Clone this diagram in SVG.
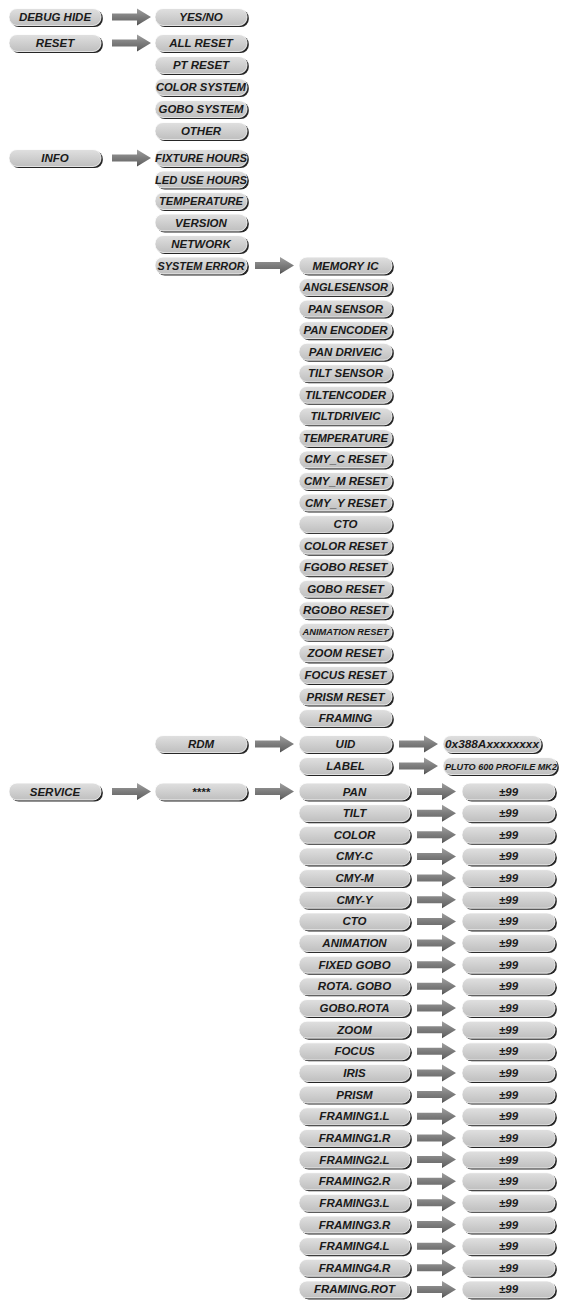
<svg xmlns="http://www.w3.org/2000/svg" xmlns:xlink="http://www.w3.org/1999/xlink" width="561" height="1302" viewBox="0 0 561 1302">
<style>
.sh{fill:#262626}
.bd{fill:url(#ng);stroke:#ffffff;stroke-width:0.8}
text{font-family:"Liberation Sans",Arial,sans-serif;font-weight:bold;font-style:italic;font-size:11.5px;fill:#1a1a1a;text-anchor:middle}
.sm{font-size:9px}
.ar{fill:url(#ag)}
</style>
<defs>
<linearGradient id="ng" x1="0" y1="0" x2="0" y2="1">
<stop offset="0" stop-color="#e0e0e0"/>
<stop offset="1" stop-color="#bfbfbf"/>
</linearGradient>
<linearGradient id="ag" x1="0" y1="0" x2="0" y2="1">
<stop offset="0" stop-color="#a0a0a0"/>
<stop offset="0.5" stop-color="#7c7c7c"/>
<stop offset="0.8" stop-color="#6a6a6a"/>
<stop offset="1" stop-color="#444444"/>
</linearGradient>
<path id="arr" class="ar" d="M0,-3.5 H25 V-8.5 L39,0 L25,8.5 V3.5 H0 Z"/>
</defs>
<rect width="561" height="1302" fill="#ffffff"/>

<g id="connectors">
<use href="#arr" x="112" y="17"/>
<use href="#arr" x="112" y="43"/>
<use href="#arr" x="112" y="158"/>
<use href="#arr" x="255" y="265.5"/>
<use href="#arr" x="255" y="744"/>
<use href="#arr" x="399" y="744"/>
<use href="#arr" x="399" y="766"/>
<use href="#arr" x="112" y="791.5"/>
<use href="#arr" x="255" y="791.5"/>
<use href="#arr" x="417" y="791.5"/>
<use href="#arr" x="417" y="813.15"/>
<use href="#arr" x="417" y="834.8"/>
<use href="#arr" x="417" y="856.45"/>
<use href="#arr" x="417" y="878.1"/>
<use href="#arr" x="417" y="899.75"/>
<use href="#arr" x="417" y="921.4"/>
<use href="#arr" x="417" y="943.05"/>
<use href="#arr" x="417" y="964.7"/>
<use href="#arr" x="417" y="986.35"/>
<use href="#arr" x="417" y="1008"/>
<use href="#arr" x="417" y="1029.65"/>
<use href="#arr" x="417" y="1051.3"/>
<use href="#arr" x="417" y="1072.95"/>
<use href="#arr" x="417" y="1094.6"/>
<use href="#arr" x="417" y="1116.25"/>
<use href="#arr" x="417" y="1137.9"/>
<use href="#arr" x="417" y="1159.55"/>
<use href="#arr" x="417" y="1181.2"/>
<use href="#arr" x="417" y="1202.85"/>
<use href="#arr" x="417" y="1224.5"/>
<use href="#arr" x="417" y="1246.15"/>
<use href="#arr" x="417" y="1267.8"/>
<use href="#arr" x="417" y="1289.45"/>
</g>

<!-- Column 1 -->
<g id="n-debug-hide"><rect class="sh" x="10.8" y="10" width="92" height="17" rx="8"/><rect class="bd" x="9" y="8.5" width="92" height="17" rx="8"/><text x="55" y="21">DEBUG HIDE</text></g>
<g id="n-reset"><rect class="sh" x="10.8" y="36" width="92" height="17" rx="8"/><rect class="bd" x="9" y="34.5" width="92" height="17" rx="8"/><text x="55" y="47">RESET</text></g>
<g id="n-info"><rect class="sh" x="10.8" y="151" width="92" height="17" rx="8"/><rect class="bd" x="9" y="149.5" width="92" height="17" rx="8"/><text x="55" y="162">INFO</text></g>
<g id="n-service"><rect class="sh" x="10.8" y="784.5" width="92" height="17" rx="8"/><rect class="bd" x="9" y="783" width="92" height="17" rx="8"/><text x="55" y="795.5">SERVICE</text></g>

<!-- Column 2 -->
<g id="n-yesno"><rect class="sh" x="156.8" y="10" width="92" height="17" rx="8"/><rect class="bd" x="155" y="8.5" width="92" height="17" rx="8"/><text x="201" y="21">YES/NO</text></g>
<g id="n-all-reset"><rect class="sh" x="156.8" y="36" width="92" height="17" rx="8"/><rect class="bd" x="155" y="34.5" width="92" height="17" rx="8"/><text x="201" y="47">ALL RESET</text></g>
<g id="n-pt-reset"><rect class="sh" x="156.8" y="58" width="92" height="17" rx="8"/><rect class="bd" x="155" y="56.5" width="92" height="17" rx="8"/><text x="201" y="69">PT RESET</text></g>
<g id="n-color-system"><rect class="sh" x="156.8" y="80" width="92" height="17" rx="8"/><rect class="bd" x="155" y="78.5" width="92" height="17" rx="8"/><text x="201" y="91" textLength="90" lengthAdjust="spacingAndGlyphs">COLOR SYSTEM</text></g>
<g id="n-gobo-system"><rect class="sh" x="156.8" y="102" width="92" height="17" rx="8"/><rect class="bd" x="155" y="100.5" width="92" height="17" rx="8"/><text x="201" y="113" textLength="85" lengthAdjust="spacingAndGlyphs">GOBO SYSTEM</text></g>
<g id="n-other"><rect class="sh" x="156.8" y="124" width="92" height="17" rx="8"/><rect class="bd" x="155" y="122.5" width="92" height="17" rx="8"/><text x="201" y="135">OTHER</text></g>
<g id="n-fixture-hours"><rect class="sh" x="156.8" y="151" width="92" height="17" rx="8"/><rect class="bd" x="155" y="149.5" width="92" height="17" rx="8"/><text x="201" y="162" textLength="92" lengthAdjust="spacingAndGlyphs">FIXTURE HOURS</text></g>
<g id="n-led-use-hours"><rect class="sh" x="156.8" y="172.5" width="92" height="17" rx="8"/><rect class="bd" x="155" y="171" width="92" height="17" rx="8"/><text x="201" y="183.5" textLength="92" lengthAdjust="spacingAndGlyphs">LED USE HOURS</text></g>
<g id="n-temperature"><rect class="sh" x="156.8" y="194" width="92" height="17" rx="8"/><rect class="bd" x="155" y="192.5" width="92" height="17" rx="8"/><text x="201" y="205" textLength="84" lengthAdjust="spacingAndGlyphs">TEMPERATURE</text></g>
<g id="n-version"><rect class="sh" x="156.8" y="215.5" width="92" height="17" rx="8"/><rect class="bd" x="155" y="214" width="92" height="17" rx="8"/><text x="201" y="226.5">VERSION</text></g>
<g id="n-network"><rect class="sh" x="156.8" y="237" width="92" height="17" rx="8"/><rect class="bd" x="155" y="235.5" width="92" height="17" rx="8"/><text x="201" y="248">NETWORK</text></g>
<g id="n-system-error"><rect class="sh" x="156.8" y="258.5" width="92" height="17" rx="8"/><rect class="bd" x="155" y="257" width="92" height="17" rx="8"/><text x="201" y="269.5" textLength="87" lengthAdjust="spacingAndGlyphs">SYSTEM ERROR</text></g>
<g id="n-rdm"><rect class="sh" x="156.8" y="737" width="92" height="17" rx="8"/><rect class="bd" x="155" y="735.5" width="92" height="17" rx="8"/><text x="201" y="748">RDM</text></g>
<g id="n-password"><rect class="sh" x="156.8" y="784.5" width="92" height="17" rx="8"/><rect class="bd" x="155" y="783" width="92" height="17" rx="8"/><text x="201" y="795.5">****</text></g>

<!-- Column 3: system error items -->
<g id="n-memory-ic"><rect class="sh" x="300.8" y="258.5" width="93" height="17" rx="8"/><rect class="bd" x="299" y="257" width="93" height="17" rx="8"/><text x="345.5" y="269.5">MEMORY IC</text></g>
<g id="n-anglesensor"><rect class="sh" x="300.8" y="280.05" width="93" height="17" rx="8"/><rect class="bd" x="299" y="278.55" width="93" height="17" rx="8"/><text x="345.5" y="291.05" textLength="85" lengthAdjust="spacingAndGlyphs">ANGLESENSOR</text></g>
<g id="n-pan-sensor"><rect class="sh" x="300.8" y="301.6" width="93" height="17" rx="8"/><rect class="bd" x="299" y="300.1" width="93" height="17" rx="8"/><text x="345.5" y="312.6">PAN SENSOR</text></g>
<g id="n-pan-encoder"><rect class="sh" x="300.8" y="323.15" width="93" height="17" rx="8"/><rect class="bd" x="299" y="321.65" width="93" height="17" rx="8"/><text x="345.5" y="334.15">PAN ENCODER</text></g>
<g id="n-pan-driveic"><rect class="sh" x="300.8" y="344.7" width="93" height="17" rx="8"/><rect class="bd" x="299" y="343.2" width="93" height="17" rx="8"/><text x="345.5" y="355.7">PAN DRIVEIC</text></g>
<g id="n-tilt-sensor"><rect class="sh" x="300.8" y="366.25" width="93" height="17" rx="8"/><rect class="bd" x="299" y="364.75" width="93" height="17" rx="8"/><text x="345.5" y="377.25">TILT SENSOR</text></g>
<g id="n-tiltencoder"><rect class="sh" x="300.8" y="387.8" width="93" height="17" rx="8"/><rect class="bd" x="299" y="386.3" width="93" height="17" rx="8"/><text x="345.5" y="398.8">TILTENCODER</text></g>
<g id="n-tiltdriveic"><rect class="sh" x="300.8" y="409.35" width="93" height="17" rx="8"/><rect class="bd" x="299" y="407.85" width="93" height="17" rx="8"/><text x="345.5" y="420.35">TILTDRIVEIC</text></g>
<g id="n-temperature2"><rect class="sh" x="300.8" y="430.9" width="93" height="17" rx="8"/><rect class="bd" x="299" y="429.4" width="93" height="17" rx="8"/><text x="345.5" y="441.9" textLength="85" lengthAdjust="spacingAndGlyphs">TEMPERATURE</text></g>
<g id="n-cmy-c-reset"><rect class="sh" x="300.8" y="452.45" width="93" height="17" rx="8"/><rect class="bd" x="299" y="450.95" width="93" height="17" rx="8"/><text x="345.5" y="463.45">CMY_C RESET</text></g>
<g id="n-cmy-m-reset"><rect class="sh" x="300.8" y="474" width="93" height="17" rx="8"/><rect class="bd" x="299" y="472.5" width="93" height="17" rx="8"/><text x="345.5" y="485">CMY_M RESET</text></g>
<g id="n-cmy-y-reset"><rect class="sh" x="300.8" y="495.55" width="93" height="17" rx="8"/><rect class="bd" x="299" y="494.05" width="93" height="17" rx="8"/><text x="345.5" y="506.55">CMY_Y RESET</text></g>
<g id="n-cto"><rect class="sh" x="300.8" y="517.1" width="93" height="17" rx="8"/><rect class="bd" x="299" y="515.6" width="93" height="17" rx="8"/><text x="345.5" y="528.1">CTO</text></g>
<g id="n-color-reset"><rect class="sh" x="300.8" y="538.65" width="93" height="17" rx="8"/><rect class="bd" x="299" y="537.15" width="93" height="17" rx="8"/><text x="345.5" y="549.65">COLOR RESET</text></g>
<g id="n-fgobo-reset"><rect class="sh" x="300.8" y="560.2" width="93" height="17" rx="8"/><rect class="bd" x="299" y="558.7" width="93" height="17" rx="8"/><text x="345.5" y="571.2">FGOBO RESET</text></g>
<g id="n-gobo-reset"><rect class="sh" x="300.8" y="581.75" width="93" height="17" rx="8"/><rect class="bd" x="299" y="580.25" width="93" height="17" rx="8"/><text x="345.5" y="592.75">GOBO RESET</text></g>
<g id="n-rgobo-reset"><rect class="sh" x="300.8" y="603.3" width="93" height="17" rx="8"/><rect class="bd" x="299" y="601.8" width="93" height="17" rx="8"/><text x="345.5" y="614.3">RGOBO RESET</text></g>
<g id="n-animation-reset"><rect class="sh" x="300.8" y="624.85" width="93" height="17" rx="8"/><rect class="bd" x="299" y="623.35" width="93" height="17" rx="8"/><text class="sm" x="345.5" y="635.35" textLength="86" lengthAdjust="spacingAndGlyphs">ANIMATION RESET</text></g>
<g id="n-zoom-reset"><rect class="sh" x="300.8" y="646.4" width="93" height="17" rx="8"/><rect class="bd" x="299" y="644.9" width="93" height="17" rx="8"/><text x="345.5" y="657.4">ZOOM RESET</text></g>
<g id="n-focus-reset"><rect class="sh" x="300.8" y="667.95" width="93" height="17" rx="8"/><rect class="bd" x="299" y="666.45" width="93" height="17" rx="8"/><text x="345.5" y="678.95">FOCUS RESET</text></g>
<g id="n-prism-reset"><rect class="sh" x="300.8" y="689.5" width="93" height="17" rx="8"/><rect class="bd" x="299" y="688" width="93" height="17" rx="8"/><text x="345.5" y="700.5">PRISM RESET</text></g>
<g id="n-framing"><rect class="sh" x="300.8" y="711.05" width="93" height="17" rx="8"/><rect class="bd" x="299" y="709.55" width="93" height="17" rx="8"/><text x="345.5" y="722.05">FRAMING</text></g>

<!-- RDM items -->
<g id="n-uid"><rect class="sh" x="300.8" y="737" width="93" height="17" rx="8"/><rect class="bd" x="299" y="735.5" width="93" height="17" rx="8"/><text x="345.5" y="748">UID</text></g>
<g id="n-label"><rect class="sh" x="300.8" y="759" width="93" height="17" rx="8"/><rect class="bd" x="299" y="757.5" width="93" height="17" rx="8"/><text x="345.5" y="770">LABEL</text></g>
<g id="n-uid-value"><rect class="sh" x="444.8" y="737" width="98" height="17" rx="8"/><rect class="bd" x="443" y="735.5" width="98" height="17" rx="8"/><text x="492" y="748" textLength="94" lengthAdjust="spacingAndGlyphs">0x388Axxxxxxxx</text></g>
<g id="n-label-value"><rect class="sh" x="444.8" y="759" width="114" height="17" rx="8"/><rect class="bd" x="443" y="757.5" width="114" height="17" rx="8"/><text class="sm" x="501" y="769.5" textLength="112" lengthAdjust="spacingAndGlyphs">PLUTO 600 PROFILE MK2</text></g>

<!-- Service items -->
<g id="s-pan"><rect class="sh" x="300.8" y="784.5" width="111" height="17" rx="8"/><rect class="bd" x="299" y="783" width="111" height="17" rx="8"/><text x="354.5" y="795.5">PAN</text></g>
<g id="s-tilt"><rect class="sh" x="300.8" y="806.15" width="111" height="17" rx="8"/><rect class="bd" x="299" y="804.65" width="111" height="17" rx="8"/><text x="354.5" y="817.15">TILT</text></g>
<g id="s-color"><rect class="sh" x="300.8" y="827.8" width="111" height="17" rx="8"/><rect class="bd" x="299" y="826.3" width="111" height="17" rx="8"/><text x="354.5" y="838.8">COLOR</text></g>
<g id="s-cmy-c"><rect class="sh" x="300.8" y="849.45" width="111" height="17" rx="8"/><rect class="bd" x="299" y="847.95" width="111" height="17" rx="8"/><text x="354.5" y="860.45">CMY-C</text></g>
<g id="s-cmy-m"><rect class="sh" x="300.8" y="871.1" width="111" height="17" rx="8"/><rect class="bd" x="299" y="869.6" width="111" height="17" rx="8"/><text x="354.5" y="882.1">CMY-M</text></g>
<g id="s-cmy-y"><rect class="sh" x="300.8" y="892.75" width="111" height="17" rx="8"/><rect class="bd" x="299" y="891.25" width="111" height="17" rx="8"/><text x="354.5" y="903.75">CMY-Y</text></g>
<g id="s-cto"><rect class="sh" x="300.8" y="914.4" width="111" height="17" rx="8"/><rect class="bd" x="299" y="912.9" width="111" height="17" rx="8"/><text x="354.5" y="925.4">CTO</text></g>
<g id="s-animation"><rect class="sh" x="300.8" y="936.05" width="111" height="17" rx="8"/><rect class="bd" x="299" y="934.55" width="111" height="17" rx="8"/><text x="354.5" y="947.05">ANIMATION</text></g>
<g id="s-fixed-gobo"><rect class="sh" x="300.8" y="957.7" width="111" height="17" rx="8"/><rect class="bd" x="299" y="956.2" width="111" height="17" rx="8"/><text x="354.5" y="968.7">FIXED GOBO</text></g>
<g id="s-rota-gobo"><rect class="sh" x="300.8" y="979.35" width="111" height="17" rx="8"/><rect class="bd" x="299" y="977.85" width="111" height="17" rx="8"/><text x="354.5" y="990.35">ROTA. GOBO</text></g>
<g id="s-gobo-rota"><rect class="sh" x="300.8" y="1001" width="111" height="17" rx="8"/><rect class="bd" x="299" y="999.5" width="111" height="17" rx="8"/><text x="354.5" y="1012">GOBO.ROTA</text></g>
<g id="s-zoom"><rect class="sh" x="300.8" y="1022.65" width="111" height="17" rx="8"/><rect class="bd" x="299" y="1021.15" width="111" height="17" rx="8"/><text x="354.5" y="1033.65">ZOOM</text></g>
<g id="s-focus"><rect class="sh" x="300.8" y="1044.3" width="111" height="17" rx="8"/><rect class="bd" x="299" y="1042.8" width="111" height="17" rx="8"/><text x="354.5" y="1055.3">FOCUS</text></g>
<g id="s-iris"><rect class="sh" x="300.8" y="1065.95" width="111" height="17" rx="8"/><rect class="bd" x="299" y="1064.45" width="111" height="17" rx="8"/><text x="354.5" y="1076.95">IRIS</text></g>
<g id="s-prism"><rect class="sh" x="300.8" y="1087.6" width="111" height="17" rx="8"/><rect class="bd" x="299" y="1086.1" width="111" height="17" rx="8"/><text x="354.5" y="1098.6">PRISM</text></g>
<g id="s-framing1l"><rect class="sh" x="300.8" y="1109.25" width="111" height="17" rx="8"/><rect class="bd" x="299" y="1107.75" width="111" height="17" rx="8"/><text x="354.5" y="1120.25">FRAMING1.L</text></g>
<g id="s-framing1r"><rect class="sh" x="300.8" y="1130.9" width="111" height="17" rx="8"/><rect class="bd" x="299" y="1129.4" width="111" height="17" rx="8"/><text x="354.5" y="1141.9">FRAMING1.R</text></g>
<g id="s-framing2l"><rect class="sh" x="300.8" y="1152.55" width="111" height="17" rx="8"/><rect class="bd" x="299" y="1151.05" width="111" height="17" rx="8"/><text x="354.5" y="1163.55">FRAMING2.L</text></g>
<g id="s-framing2r"><rect class="sh" x="300.8" y="1174.2" width="111" height="17" rx="8"/><rect class="bd" x="299" y="1172.7" width="111" height="17" rx="8"/><text x="354.5" y="1185.2">FRAMING2.R</text></g>
<g id="s-framing3l"><rect class="sh" x="300.8" y="1195.85" width="111" height="17" rx="8"/><rect class="bd" x="299" y="1194.35" width="111" height="17" rx="8"/><text x="354.5" y="1206.85">FRAMING3.L</text></g>
<g id="s-framing3r"><rect class="sh" x="300.8" y="1217.5" width="111" height="17" rx="8"/><rect class="bd" x="299" y="1216" width="111" height="17" rx="8"/><text x="354.5" y="1228.5">FRAMING3.R</text></g>
<g id="s-framing4l"><rect class="sh" x="300.8" y="1239.15" width="111" height="17" rx="8"/><rect class="bd" x="299" y="1237.65" width="111" height="17" rx="8"/><text x="354.5" y="1250.15">FRAMING4.L</text></g>
<g id="s-framing4r"><rect class="sh" x="300.8" y="1260.8" width="111" height="17" rx="8"/><rect class="bd" x="299" y="1259.3" width="111" height="17" rx="8"/><text x="354.5" y="1271.8">FRAMING4.R</text></g>
<g id="s-framing-rot"><rect class="sh" x="300.8" y="1282.45" width="111" height="17" rx="8"/><rect class="bd" x="299" y="1280.95" width="111" height="17" rx="8"/><text x="354.5" y="1293.45">FRAMING.ROT</text></g>

<!-- Service values -->
<g id="v01"><rect class="sh" x="463.8" y="784.5" width="93" height="17" rx="8"/><rect class="bd" x="462" y="783" width="93" height="17" rx="8"/><text x="508.5" y="795.5">±99</text></g>
<g id="v02"><rect class="sh" x="463.8" y="806.15" width="93" height="17" rx="8"/><rect class="bd" x="462" y="804.65" width="93" height="17" rx="8"/><text x="508.5" y="817.15">±99</text></g>
<g id="v03"><rect class="sh" x="463.8" y="827.8" width="93" height="17" rx="8"/><rect class="bd" x="462" y="826.3" width="93" height="17" rx="8"/><text x="508.5" y="838.8">±99</text></g>
<g id="v04"><rect class="sh" x="463.8" y="849.45" width="93" height="17" rx="8"/><rect class="bd" x="462" y="847.95" width="93" height="17" rx="8"/><text x="508.5" y="860.45">±99</text></g>
<g id="v05"><rect class="sh" x="463.8" y="871.1" width="93" height="17" rx="8"/><rect class="bd" x="462" y="869.6" width="93" height="17" rx="8"/><text x="508.5" y="882.1">±99</text></g>
<g id="v06"><rect class="sh" x="463.8" y="892.75" width="93" height="17" rx="8"/><rect class="bd" x="462" y="891.25" width="93" height="17" rx="8"/><text x="508.5" y="903.75">±99</text></g>
<g id="v07"><rect class="sh" x="463.8" y="914.4" width="93" height="17" rx="8"/><rect class="bd" x="462" y="912.9" width="93" height="17" rx="8"/><text x="508.5" y="925.4">±99</text></g>
<g id="v08"><rect class="sh" x="463.8" y="936.05" width="93" height="17" rx="8"/><rect class="bd" x="462" y="934.55" width="93" height="17" rx="8"/><text x="508.5" y="947.05">±99</text></g>
<g id="v09"><rect class="sh" x="463.8" y="957.7" width="93" height="17" rx="8"/><rect class="bd" x="462" y="956.2" width="93" height="17" rx="8"/><text x="508.5" y="968.7">±99</text></g>
<g id="v10"><rect class="sh" x="463.8" y="979.35" width="93" height="17" rx="8"/><rect class="bd" x="462" y="977.85" width="93" height="17" rx="8"/><text x="508.5" y="990.35">±99</text></g>
<g id="v11"><rect class="sh" x="463.8" y="1001" width="93" height="17" rx="8"/><rect class="bd" x="462" y="999.5" width="93" height="17" rx="8"/><text x="508.5" y="1012">±99</text></g>
<g id="v12"><rect class="sh" x="463.8" y="1022.65" width="93" height="17" rx="8"/><rect class="bd" x="462" y="1021.15" width="93" height="17" rx="8"/><text x="508.5" y="1033.65">±99</text></g>
<g id="v13"><rect class="sh" x="463.8" y="1044.3" width="93" height="17" rx="8"/><rect class="bd" x="462" y="1042.8" width="93" height="17" rx="8"/><text x="508.5" y="1055.3">±99</text></g>
<g id="v14"><rect class="sh" x="463.8" y="1065.95" width="93" height="17" rx="8"/><rect class="bd" x="462" y="1064.45" width="93" height="17" rx="8"/><text x="508.5" y="1076.95">±99</text></g>
<g id="v15"><rect class="sh" x="463.8" y="1087.6" width="93" height="17" rx="8"/><rect class="bd" x="462" y="1086.1" width="93" height="17" rx="8"/><text x="508.5" y="1098.6">±99</text></g>
<g id="v16"><rect class="sh" x="463.8" y="1109.25" width="93" height="17" rx="8"/><rect class="bd" x="462" y="1107.75" width="93" height="17" rx="8"/><text x="508.5" y="1120.25">±99</text></g>
<g id="v17"><rect class="sh" x="463.8" y="1130.9" width="93" height="17" rx="8"/><rect class="bd" x="462" y="1129.4" width="93" height="17" rx="8"/><text x="508.5" y="1141.9">±99</text></g>
<g id="v18"><rect class="sh" x="463.8" y="1152.55" width="93" height="17" rx="8"/><rect class="bd" x="462" y="1151.05" width="93" height="17" rx="8"/><text x="508.5" y="1163.55">±99</text></g>
<g id="v19"><rect class="sh" x="463.8" y="1174.2" width="93" height="17" rx="8"/><rect class="bd" x="462" y="1172.7" width="93" height="17" rx="8"/><text x="508.5" y="1185.2">±99</text></g>
<g id="v20"><rect class="sh" x="463.8" y="1195.85" width="93" height="17" rx="8"/><rect class="bd" x="462" y="1194.35" width="93" height="17" rx="8"/><text x="508.5" y="1206.85">±99</text></g>
<g id="v21"><rect class="sh" x="463.8" y="1217.5" width="93" height="17" rx="8"/><rect class="bd" x="462" y="1216" width="93" height="17" rx="8"/><text x="508.5" y="1228.5">±99</text></g>
<g id="v22"><rect class="sh" x="463.8" y="1239.15" width="93" height="17" rx="8"/><rect class="bd" x="462" y="1237.65" width="93" height="17" rx="8"/><text x="508.5" y="1250.15">±99</text></g>
<g id="v23"><rect class="sh" x="463.8" y="1260.8" width="93" height="17" rx="8"/><rect class="bd" x="462" y="1259.3" width="93" height="17" rx="8"/><text x="508.5" y="1271.8">±99</text></g>
<g id="v24"><rect class="sh" x="463.8" y="1282.45" width="93" height="17" rx="8"/><rect class="bd" x="462" y="1280.95" width="93" height="17" rx="8"/><text x="508.5" y="1293.45">±99</text></g>
</svg>
